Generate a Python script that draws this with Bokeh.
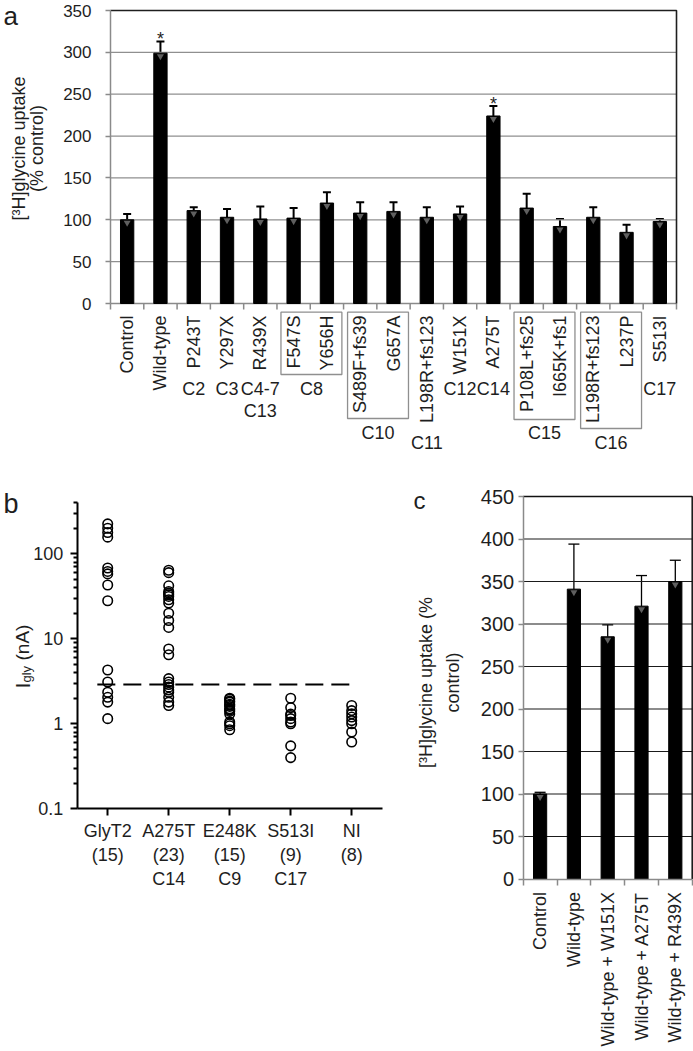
import math
from bokeh.plotting import figure
from bokeh.layouts import column, row
from bokeh.models import (Range1d, FixedTicker, Whisker, TeeHead,
                          ColumnDataSource, CustomJSTickFormatter)
from bokeh.core.properties import value
from bokeh.embed import file_html
from bokeh.resources import INLINE

# ---------------- data: panel a ----------------
a_labels = ["Control", "Wild-type", "P243T", "Y297X", "R439X", "F547S", "Y656H",
            "S489F+fs39", "G657A", "L198R+fs123", "W151X", "A275T", "P108L+fs25",
            "I665K+fs1", "L198R+fs123", "L237P", "S513I"]
a_means = [100, 299, 111, 103, 101, 102, 120, 108, 110, 103, 107, 224, 114, 92, 103, 85, 98]
a_err_top = [107, 313, 115, 113, 116, 114, 133, 121, 121, 115, 116, 236, 131, 101, 115, 94, 101]
a_starred = ["Wild-type", "A275T"]
a_groups = ["C2", "C3", "C4-7", "C13", "C8", "C10", "C11", "C12", "C14", "C15", "C16", "C17"]
a_group_first = [2, 3, 4, 4, 5, 7, 9, 10, 11, 12, 14, 16]
a_group_last = [2, 3, 4, 4, 6, 8, 9, 10, 11, 13, 15, 16]
a_yticks = [0, 50, 100, 150, 200, 250, 300, 350]

# ---------------- data: panel b ----------------
b_cats = ["GlyT2\n(15)", "A275T\n(23)\nC14", "E248K\n(15)\nC9", "S513I\n(9)\nC17", "NI\n(8)"]
b_glyt2 = [225, 200, 178, 157, 68, 62, 58, 43, 28, 4.3, 3.1, 2.35, 2.05, 1.8, 1.15]
b_a275t = [64, 60, 42, 36, 34.5, 33, 31.5, 28.8, 26.3, 20, 16.4, 13.6,
           7.6, 6.5, 3.4, 3.1, 2.9, 2.7, 2.5, 2.35, 2.05, 1.8, 1.64]
b_e248k = [2.0, 1.95, 1.85, 1.8, 1.7, 1.65, 1.6, 1.5, 1.45, 1.4, 1.3, 1.05, 1.0, 0.95, 0.85]
b_s513i = [2.0, 1.55, 1.3, 1.25, 1.15, 1.05, 1.0, 0.55, 0.4]
b_ni = [1.64, 1.43, 1.31, 1.2, 1.09, 1.0, 0.8, 0.61]
b_threshold = 2.9
b_major = [0.1, 1, 10, 100]
b_minor = [0.2, 0.3, 0.4, 0.5, 0.6, 0.7, 0.8, 0.9, 2, 3, 4, 5, 6, 7, 8, 9,
           20, 30, 40, 50, 60, 70, 80, 90, 200, 300, 400]
b_ymax = 400

# ---------------- data: panel c ----------------
c_labels = ["Control", "Wild-type", "Wild-type + W151X", "Wild-type + A275T", "Wild-type + R439X"]
c_means = [100, 341, 285, 321, 350]
c_err_top = [102, 394, 299, 357, 375]
c_yticks = [0, 50, 100, 150, 200, 250, 300, 350, 400, 450]

# ---------------- style ----------------
FONT = "Liberation Sans"
INK = "#1e1e1e"
GRAY = "#8a8a8a"
TRI = "#5f5f5f"


def base_fig(w, h, xr, yr, **kw):
    p = figure(width=w, height=h, x_range=xr, y_range=yr, toolbar_location=None,
               output_backend="svg", min_border=0, outline_line_color=None, **kw)
    p.xgrid.visible = False
    p.ygrid.visible = False
    return p


def style_axis(axis, color, width, size, tick_out, standoff):
    axis.axis_line_color = color
    axis.axis_line_width = width
    axis.major_tick_line_color = color
    axis.major_tick_line_width = width
    axis.major_tick_out = tick_out
    axis.major_tick_in = 0
    axis.minor_tick_line_color = None
    axis.major_label_standoff = standoff
    axis.major_label_text_font = FONT
    axis.major_label_text_font_size = size
    axis.major_label_text_color = INK


def txt(p, x, y, t, size, **kw):
    p.text(x=x, y=y, text=t, text_font=value(FONT), text_font_size=size, text_color=INK, **kw)


# =============== PANEL A (page x 0..693, y 0..463) ===============
WA, HA = 693, 463
nA = len(a_labels)
A_X0, A_CAT = 110, 566 / nA          # page x of category 0, px per category
A_Y0, A_PX = 303, 293 / 350          # page y of value 0, px per unit


def ax(page_x):
    return (page_x - A_X0) / A_CAT


def ay(page_y):
    return (A_Y0 - page_y) / A_PX


def ady(px):
    return px / A_PX


pa = base_fig(WA, HA, Range1d(ax(0), ax(WA)), Range1d(ay(HA), ay(0)), x_axis_location=None)
ya = pa.yaxis[0]
ya.fixed_location = 0
ya.bounds = (a_yticks[0], a_yticks[-1])
ya.ticker = FixedTicker(ticks=a_yticks)
style_axis(ya, GRAY, 1.5, "17px", 5, 14)

xc = [i + 0.5 for i in range(nA)]
bx_bounds = list(range(nA + 1))
grid_vals = a_yticks[1:-1]
pa.segment(x0=[0] * len(grid_vals), x1=[nA] * len(grid_vals), y0=grid_vals, y1=grid_vals,
           line_color="#8f8f8f", line_width=1.3)
pa.line(x=[0, nA], y=[0, 0], line_color=GRAY, line_width=1.5)
pa.segment(x0=bx_bounds, y0=[0] * len(bx_bounds), x1=bx_bounds, y1=[-ady(6)] * len(bx_bounds),
           line_color=GRAY, line_width=1.5)
pa.line(x=[0, nA, nA], y=[a_yticks[-1], a_yticks[-1], 0], line_color=INK, line_width=1.6)

pa.vbar(x=xc, top=a_means, width=0.4, fill_color="black", line_color="black")
src_a = ColumnDataSource(dict(x=xc, lower=a_means, upper=a_err_top))
pa.add_layout(Whisker(base="x", lower="lower", upper="upper", source=src_a, dimension="height",
                      line_color="black", line_width=2, lower_head=None,
                      upper_head=TeeHead(size=8, line_width=2, line_color="black")))
pa.scatter(x=xc, y=[m - ady(3) for m in a_means], marker="inverted_triangle", size=7,
           fill_color=TRI, line_color=None)
sx = [xc[a_labels.index(s)] for s in a_starred]
sy = [a_err_top[a_labels.index(s)] + ady(2) for s in a_starred]
txt(pa, sx, sy, ["*"] * len(sx), "18px", text_align="center", text_baseline="alphabetic")

txt(pa, xc, [-ady(12)] * nA, a_labels, "18px", angle=math.pi / 2, text_align="right",
    text_baseline="middle")

row_px = [85, 85, 85, 107, 85, 129, 139, 85, 85, 129, 139, 85]
box_bottom_px = {"C8": 71, "C10": 115, "C15": 116, "C16": 125}
bl, br, bt, bb, gx, gy = [], [], [], [], [], []
for g, f, l, rp in zip(a_groups, a_group_first, a_group_last, row_px):
    if f != l:
        left, right = f + 0.12, l + 0.95
        bl.append(left)
        br.append(right)
        bt.append(-ady(8.7))
        bb.append(-ady(box_bottom_px[g]))
        gx.append((left + right) / 2)
    else:
        gx.append(f + 0.5)
    gy.append(-ady(rp))
pa.quad(left=bl, right=br, top=bt, bottom=bb, fill_color=None, line_color="#8f8f8f",
        line_width=1.3)
txt(pa, gx, gy, a_groups, "18px", text_align="center", text_baseline="middle")

txt(pa, [ax(3)], [ay(15)], ["a"], "26px", text_align="left", text_baseline="alphabetic")
txt(pa, [ax(18), ax(36.5)], [ay(148), ay(148)], ["[³H]glycine uptake", "(% control)"], "18px",
    angle=math.pi / 2, text_align="center", text_baseline="middle")

# =============== PANEL B (page x 0..400, y 463..1051) ===============
WB, HB = 400, 588
nB = len(b_cats)
B_X0, B_CAT = 76.7, 61
B_Y0 = 808.3                     # page y of 0.1
B_DEC = 85                       # px per decade
B_LEFT, B_TOP = 0, HA


def bx(page_x):
    return (page_x - B_X0) / B_CAT


def by(page_y):
    return 10 ** (math.log10(0.1) + (B_Y0 - page_y) / B_DEC)


pb = base_fig(WB, HB, Range1d(bx(B_LEFT), bx(B_LEFT + WB)), Range1d(by(B_TOP + HB), by(B_TOP)),
              y_axis_type="log")
xb = pb.xaxis[0]
xb.fixed_location = 0.1
xb.bounds = (0, nB)
xb.ticker = FixedTicker(ticks=[i + 0.5 for i in range(nB)])
xb.formatter = CustomJSTickFormatter(args=dict(labels=b_cats),
                                     code="return labels[Math.round(tick - 0.5)]")
style_axis(xb, "black", 2, "18px", 7, 5)
yb = pb.yaxis[0]
yb.fixed_location = 0
yb.bounds = (0.1, b_ymax)
yb.ticker = FixedTicker(ticks=b_major, minor_ticks=b_minor)
yb.formatter = CustomJSTickFormatter(code="return String(tick)")
style_axis(yb, "black", 2, "18px", 7, 7)
yb.minor_tick_line_color = "black"
yb.minor_tick_line_width = 2
yb.minor_tick_out = 4
yb.minor_tick_in = 0

b_series = [b_glyt2, b_a275t, b_e248k, b_s513i, b_ni]
xs, ys = [], []
for i, vals in enumerate(b_series):
    xs += [i + 0.5] * len(vals)
    ys += vals
pb.line(x=[0.33, nB - 0.5], y=[b_threshold, b_threshold], line_color="black",
        line_width=2, line_dash="18 8")
pb.scatter(x=xs, y=ys, marker="circle", size=9.5, fill_color=None, line_color="black",
           line_width=1.6)

txt(pb, [bx(3)], [by(503)], ["b"], "27px", text_align="left", text_baseline="alphabetic")
txt(pb, [bx(22)], [by(688)], ["I"], "21px", angle=math.pi / 2, text_align="left",
    text_baseline="alphabetic")
txt(pb, [bx(26)], [by(682)], ["gly"], "13px", angle=math.pi / 2, text_align="left",
    text_baseline="alphabetic")
txt(pb, [bx(22)], [by(660)], ["(nA)"], "19px", angle=math.pi / 2, text_align="left",
    text_baseline="alphabetic")

# =============== PANEL C (page x 400..693, y 463..1051) ===============
WC, HC = 293, 588
nC = len(c_labels)
C_X0, C_CAT = 522.7, 169 / nC
C_Y0, C_PX = 878.5, 382.5 / c_yticks[-1]
C_LEFT, C_TOP = WB, HA


def cx(page_x):
    return (page_x - C_X0) / C_CAT


def cy(page_y):
    return (C_Y0 - page_y) / C_PX


pc = base_fig(WC, HC, Range1d(cx(C_LEFT), cx(C_LEFT + WC)), Range1d(cy(C_TOP + HC), cy(C_TOP)))
grid_c = c_yticks[1:-1]
pc.segment(x0=[0] * len(grid_c), x1=[nC] * len(grid_c), y0=grid_c, y1=grid_c,
           line_color="#1a1a1a", line_width=1.2)
pc.line(x=[0, nC, nC], y=[c_yticks[-1], c_yticks[-1], 0], line_color="#111111", line_width=1.5)

yc = pc.yaxis[0]
yc.fixed_location = 0
yc.bounds = (0, c_yticks[-1])
yc.ticker = FixedTicker(ticks=c_yticks)
style_axis(yc, GRAY, 1.5, "20px", 5, 4)
xcax = pc.xaxis[0]
cxc = [i + 0.5 for i in range(nC)]
xcax.fixed_location = 0
xcax.bounds = (0, nC)
xcax.ticker = FixedTicker(ticks=cxc, minor_ticks=list(range(nC + 1)))
xcax.formatter = CustomJSTickFormatter(args=dict(labels=c_labels),
                                       code="return labels[Math.round(tick - 0.5)]")
style_axis(xcax, GRAY, 1.5, "18px", 6, 7)
xcax.major_tick_line_color = None
xcax.minor_tick_line_color = GRAY
xcax.minor_tick_line_width = 1.5
xcax.minor_tick_out = 6
xcax.minor_tick_in = 0
xcax.major_label_orientation = math.pi / 2

pc.vbar(x=cxc, top=c_means, width=0.39, fill_color="black", line_color="black")
src_c = ColumnDataSource(dict(x=cxc, lower=c_means, upper=c_err_top))
pc.add_layout(Whisker(base="x", lower="lower", upper="upper", source=src_c, dimension="height",
                      line_color="black", line_width=1.3, lower_head=None,
                      upper_head=TeeHead(size=11, line_width=1.3, line_color="black")))
pc.scatter(x=cxc, y=[m - 3 / C_PX for m in c_means], marker="inverted_triangle", size=7,
           fill_color=TRI, line_color=None)

txt(pc, [cx(413)], [cy(500)], ["c"], "24px", text_align="left", text_baseline="alphabetic")
txt(pc, [cx(425), cx(452)], [cy(682), cy(682)], ["[³H]glycine uptake (%", "control)"], "18px",
    angle=math.pi / 2, text_align="center", text_baseline="middle")

layout = column(pa, row(pb, pc))
open("out.html", "w").write(file_html(layout, INLINE))
